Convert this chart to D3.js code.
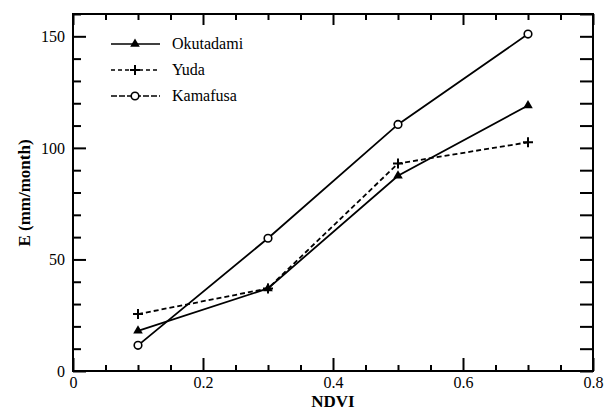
<!DOCTYPE html>
<html>
<head>
<meta charset="utf-8">
<script src="https://cdn.jsdelivr.net/npm/d3@7"></script>
<style>
  body { margin: 0; background: #fff; }
  .tick line { stroke: #000; stroke-width: 2px; }
  .domain { display: none; }
</style>
</head>
<body>
<div id="chart"></div>
<script>
var ndvi = [0.1, 0.3, 0.5, 0.7];
var okutadami = [18, 37, 87.5, 119];
var yuda = [25.5, 37, 93, 102.5];
var kamafusa = [11.5, 59.5, 110.5, 151];
var xTicks = [0, 0.2, 0.4, 0.6, 0.8];
var xMinor = [0.05, 0.1, 0.15, 0.25, 0.3, 0.35, 0.45, 0.5, 0.55, 0.65, 0.7, 0.75];
var yTicks = [0, 50, 100, 150];
var yMinor = [10, 20, 30, 40, 60, 70, 80, 90, 110, 120, 130, 140, 160];
var seriesNames = ["Okutadami", "Yuda", "Kamafusa"];

var w = 605, h = 410;
var plotL = 73, plotR = 593, plotT = 14, plotB = 371;
var serif = "'Liberation Serif', 'Times New Roman', 'DejaVu Serif', serif";

var svg = d3.select("#chart").append("svg")
    .attr("width", w)
    .attr("height", h)
    .style("font-family", serif);

var x = d3.scaleLinear().domain([0, 0.8]).range([plotL, plotR]);
var y = d3.scaleLinear().domain([0, 160]).range([plotB, plotT]);

function noLabels(g) { g.selectAll("text").remove(); }
function serifLabels(g) {
    g.selectAll("text").attr("font-size", 16).attr("font-family", serif).attr("fill", "#000");
    g.selectAll("line").remove();
}

// tick labels (outside)
svg.append("g")
    .attr("transform", "translate(0," + plotB + ")")
    .call(d3.axisBottom(x).tickValues(xTicks).tickSize(0).tickPadding(6)
        .tickFormat(d => d == 0 ? "0" : d3.format(".1f")(d)))
    .call(serifLabels);
svg.append("g")
    .attr("transform", "translate(" + plotL + ",0)")
    .call(d3.axisLeft(y).tickValues(yTicks).tickSize(0).tickPadding(8))
    .call(serifLabels);

// frame
svg.append("rect")
    .attr("x", plotL).attr("y", plotT)
    .attr("width", plotR - plotL).attr("height", plotB - plotT)
    .attr("fill", "none").attr("stroke", "#000").attr("stroke-width", 2);

// axis titles
svg.append("text")
    .attr("x", 333).attr("y", 407)
    .attr("text-anchor", "middle").attr("font-size", 17).attr("font-weight", "bold")
    .text("NDVI");
svg.append("text")
    .attr("transform", "translate(30,193) rotate(-90)")
    .attr("text-anchor", "middle").attr("font-size", 17).attr("font-weight", "bold")
    .text("E (mm/month)");

var series = [
    { name: seriesNames[0], values: okutadami, dash: null, legendDash: null, marker: "triangle" },
    { name: seriesNames[1], values: yuda, dash: "5,3", legendDash: "4,3", marker: "plus" },
    { name: seriesNames[2], values: kamafusa, dash: null, legendDash: "6,2", marker: "circle" }
];

var line = d3.line().x(d => x(d[0])).y(d => y(d[1]));

function drawMarker(g, type, cx, cy) {
    if (type == "triangle") {
        g.append("path")
            .attr("d", d3.symbol().type(d3.symbolTriangle).size(40)())
            .attr("transform", "translate(" + cx + "," + cy + ")")
            .attr("fill", "#000");
    } else if (type == "plus") {
        g.append("path")
            .attr("d", "M" + (cx - 5) + "," + cy + "H" + (cx + 5) + "M" + cx + "," + (cy - 5) + "V" + (cy + 5))
            .attr("stroke", "#000").attr("stroke-width", 2);
    } else {
        g.append("circle")
            .attr("cx", cx).attr("cy", cy).attr("r", 3.8)
            .attr("fill", "#fff").attr("stroke", "#000").attr("stroke-width", 1.6);
    }
}

series.forEach(function (s) {
    var pts = ndvi.map((v, i) => [v, s.values[i]]);
    svg.append("path")
        .datum(pts)
        .attr("d", line)
        .attr("fill", "none")
        .attr("stroke", "#000")
        .attr("stroke-width", 1.8)
        .attr("stroke-dasharray", s.dash);
    var g = svg.append("g");
    pts.forEach(p => drawMarker(g, s.marker, x(p[0]), y(p[1])));
});

// legend
series.forEach(function (s, i) {
    var ly = 44 + i * 26;
    var g = svg.append("g");
    g.append("line")
        .attr("x1", 111).attr("x2", 160).attr("y1", ly).attr("y2", ly)
        .attr("stroke", "#000").attr("stroke-width", 1.6)
        .attr("stroke-dasharray", s.legendDash);
    drawMarker(g, s.marker, 135, ly);
    g.append("text")
        .attr("x", 172).attr("y", ly + 5)
        .attr("font-size", 16)
        .text(s.name);
});

// inward ticks, drawn last so nothing sits on top of them
svg.append("g").attr("transform", "translate(0," + plotB + ")")
    .call(d3.axisTop(x).tickValues(xTicks).tickSize(13)).call(noLabels);
svg.append("g").attr("transform", "translate(0," + plotB + ")")
    .call(d3.axisTop(x).tickValues(xMinor).tickSize(6)).call(noLabels);
svg.append("g").attr("transform", "translate(0," + plotT + ")")
    .call(d3.axisBottom(x).tickValues(xTicks).tickSize(11)).call(noLabels);
svg.append("g").attr("transform", "translate(0," + plotT + ")")
    .call(d3.axisBottom(x).tickValues(xMinor).tickSize(6)).call(noLabels);
svg.append("g").attr("transform", "translate(" + plotL + ",0)")
    .call(d3.axisRight(y).tickValues(yTicks).tickSize(13)).call(noLabels);
svg.append("g").attr("transform", "translate(" + plotL + ",0)")
    .call(d3.axisRight(y).tickValues(yMinor).tickSize(8)).call(noLabels);
svg.append("g").attr("transform", "translate(" + plotR + ",0)")
    .call(d3.axisLeft(y).tickValues(yTicks.concat(yMinor)).tickSize(13)).call(noLabels);
</script>
</body>
</html>
